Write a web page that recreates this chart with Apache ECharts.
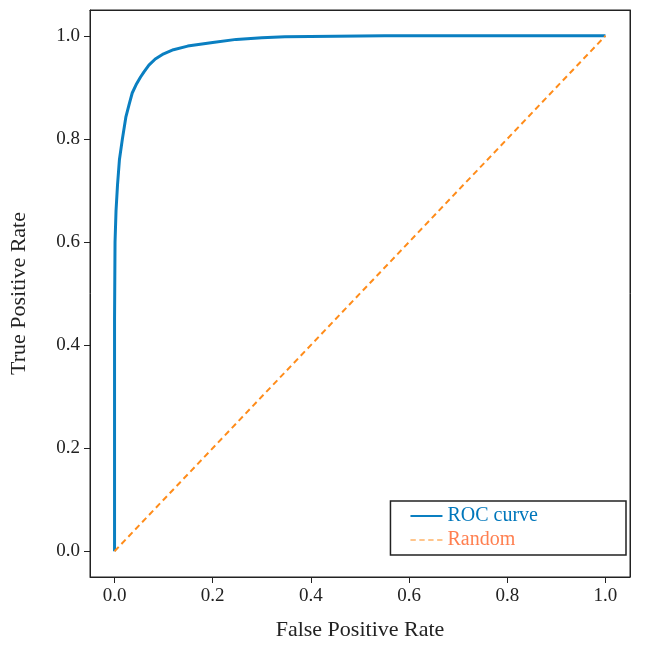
<!DOCTYPE html><html><head><meta charset="utf-8"><script src="https://cdn.jsdelivr.net/npm/echarts@6/dist/echarts.min.js"></script></head><body style="margin:0"><div id="c" style="width:648px;height:646px"></div><script>
const fpr=[0,0,0.001,0.003,0.006,0.01,0.016,0.023,0.03,0.036,0.045,0.053,0.06,0.07,0.083,0.1,0.12,0.149,0.2,0.248,0.3,0.347,0.45,0.55,0.7,1.0];
const tpr=[0,0.45,0.6,0.66,0.71,0.76,0.8,0.842,0.868,0.889,0.907,0.92,0.93,0.943,0.955,0.965,0.973,0.98,0.987,0.993,0.996,0.998,0.999,1.0,1.0,1.0];
const ticks=[0,0.2,0.4,0.6,0.8,1.0];
const font='Liberation Serif';
const ax=(name,gap)=>({type:'value',min:-0.05,max:1.05,name:name,nameLocation:'middle',nameGap:gap,
 nameTextStyle:{fontFamily:font,fontSize:22,color:'#222'},
 axisLine:{show:true,onZero:false,lineStyle:{color:'#222',width:1}},
 axisTick:{show:true,inside:false,customValues:ticks,length:6,lineStyle:{color:'#222'}},
 axisLabel:{customValues:ticks,formatter:v=>v.toFixed(1),fontFamily:font,fontSize:19,color:'#222',margin:10},
 splitLine:{show:false}});
const x=ax('False Positive Rate',42),y=ax('True Positive Rate',60);
const chart=echarts.init(document.getElementById('c'));
chart.setOption({animation:false,
 grid:{left:84,right:18,top:10,bottom:66,show:true,borderColor:'#222',borderWidth:1},
 xAxis:[x,Object.assign({},x,{position:'top',name:'',axisTick:{show:false},axisLabel:{show:false}})],
 yAxis:[y,Object.assign({},y,{position:'right',name:'',axisTick:{show:false},axisLabel:{show:false}})],
 legend:{right:22,bottom:91,orient:'vertical',itemWidth:32,itemHeight:2,itemGap:4,padding:[5,88,5,20],
  borderColor:'#222',borderWidth:1.5,borderRadius:0,textStyle:{fontFamily:font,fontSize:20},
  data:[{name:'ROC curve',textStyle:{color:'#0077bb'},icon:'rect',itemStyle:{color:'#0a7fc1'}},
   {name:'Random',textStyle:{color:'#ff7f50'},icon:'path://M0,0h6v1H0zM10,0h6v1h-6zM20,0h6v1h-6zM30,0h6v1h-6z',itemStyle:{color:'#ff8c1a'}}]},
 series:[
  {name:'ROC curve',type:'line',data:fpr.map((v,i)=>[v,tpr[i]]),showSymbol:false,lineStyle:{color:'#0a7fc1',width:3},itemStyle:{color:'#0a7fc1'}},
  {name:'Random',type:'line',data:[[0,0],[1,1]],showSymbol:false,lineStyle:{color:'#ff8c1a',width:2,type:[6,4]},itemStyle:{color:'#ff8c1a'}}
 ]});
</script></body></html>
